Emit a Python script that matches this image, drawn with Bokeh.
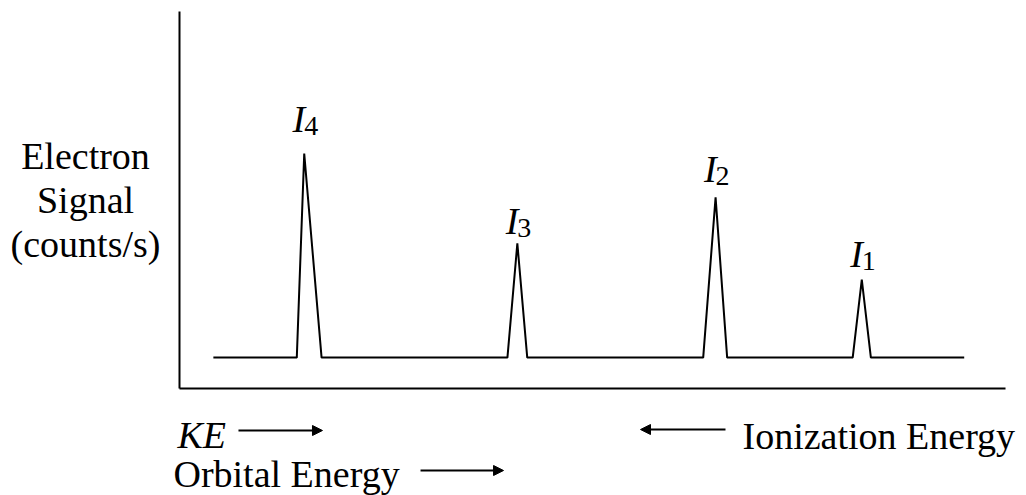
from bokeh.plotting import figure
from bokeh.models import Range1d, Arrow, NormalHead
from bokeh.core.properties import value
from bokeh.embed import file_html
from bokeh.resources import INLINE

# ---- data (arbitrary energy units on x, signal units on y) ----
peak_names = ["4", "3", "2", "1"]
peak_left = [14.2, 39.7, 63.4, 81.5]
peak_center = [15.1, 40.9, 64.9, 82.6]
peak_right = [17.2, 42.1, 66.3, 83.7]
peak_height = [62.3, 38.5, 50.7, 28.9]
label_y = [71.6, 44.5, 58.1, 35.8]
baseline_level = 8.2
baseline_start = 4.1
baseline_end = 95.0
axis_x_max = 100
axis_y_max = 100

y_label_lines = ["Electron", "Signal", "(counts/s)"]
y_label_x = -11.38
y_label_base = [61.8, 49.9, 38.4]

FONT = value("Liberation Serif")

# ---- figure ----
p = figure(width=1026, height=495,
           x_range=Range1d(-21.67, 102.54), y_range=Range1d(-28.38, 102.92),
           output_backend="svg", toolbar_location=None,
           x_axis_type=None, y_axis_type=None, min_border=0)
p.grid.visible = False
p.outline_line_color = None
p.background_fill_color = "white"
p.border_fill_color = "white"

# axes lines
p.segment(x0=[0, 0], y0=[0, 0], x1=[0, axis_x_max], y1=[axis_y_max, 0],
          line_color="black", line_width=2)

# spectrum polyline built from peak data
xs = [baseline_start]
ys = [baseline_level]
for l, c, r, h in zip(peak_left, peak_center, peak_right, peak_height):
    xs += [l, c, r]
    ys += [baseline_level, h, baseline_level]
xs.append(baseline_end)
ys.append(baseline_level)
p.line(xs, ys, line_color="black", line_width=2)

# peak labels: italic I with upright subscript
p.text(x=peak_center, y=label_y, text=["I"] * len(peak_center),
       text_font=FONT, text_font_size="38px", text_font_style="italic",
       text_align="right", text_baseline="alphabetic", text_color="black", x_offset=1)
p.text(x=peak_center, y=label_y, text=peak_names,
       text_font=FONT, text_font_size="28px",
       text_align="left", text_baseline="alphabetic", text_color="black", y_offset=7)

# y-axis label
p.text(x=[y_label_x] * 3, y=y_label_base, text=y_label_lines,
       text_font=FONT, text_font_size="38px", text_align="center",
       text_baseline="alphabetic", text_color="black")

# bottom annotations
p.text(x=[-0.24], y=[-12.2], text=["KE"], text_font=FONT, text_font_size="38px",
       text_font_style="italic", text_align="left", text_baseline="alphabetic",
       text_color="black")
p.text(x=[-0.73], y=[-22.55], text=["Orbital Energy"], text_font=FONT,
       text_font_size="38px", text_align="left", text_baseline="alphabetic",
       text_color="black")
p.text(x=[68.16], y=[-12.47], text=["Ionization Energy"], text_font=FONT,
       text_font_size="38px", text_align="left", text_baseline="alphabetic",
       text_color="black")

for xs0, xe, yy in [(7.14, 17.31, -11.14), (29.18, 39.23, -21.75), (66.10, 55.81, -10.88)]:
    p.add_layout(Arrow(end=NormalHead(size=10, fill_color="black", line_color="black"),
                       x_start=xs0, y_start=yy, x_end=xe, y_end=yy,
                       line_color="black", line_width=2))

open("out.html", "w").write(file_html(p, INLINE))
